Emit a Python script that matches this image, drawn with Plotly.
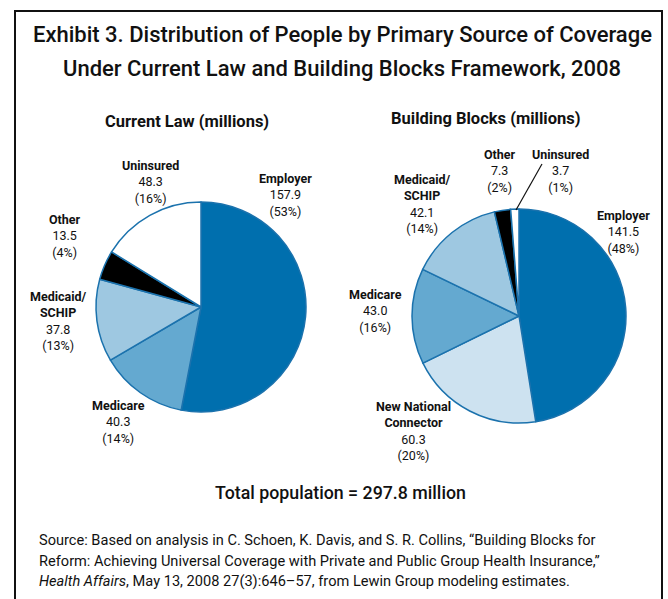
import plotly.graph_objects as go

W, H = 668, 599

# ---- data ----
cur_labels = ["Employer", "Medicare", "Medicaid/SCHIP", "Other", "Uninsured"]
cur_values = [157.9, 40.3, 37.8, 13.5, 48.3]
cur_pcts = ["53%", "14%", "13%", "4%", "16%"]

bb_labels = ["Employer", "New National Connector", "Medicare", "Medicaid/SCHIP", "Other", "Uninsured"]
bb_values = [141.5, 60.3, 43.0, 42.1, 7.3, 3.7]
bb_pcts = ["48%", "20%", "16%", "14%", "2%", "1%"]

# how label names wrap onto lines
name_lines = {
    "Employer": ["Employer"],
    "Medicare": ["Medicare"],
    "Medicaid/SCHIP": ["Medicaid/", "SCHIP"],
    "Other": ["Other"],
    "Uninsured": ["Uninsured"],
    "New National Connector": ["New National", "Connector"],
}

color_map = {
    "Employer": "#006fae",
    "Medicare": "#64a9d0",
    "Medicaid/SCHIP": "#9ec8e1",
    "Other": "#000000",
    "Uninsured": "#ffffff",
    "New National Connector": "#cde2f0",
}

# label block centres (pixels) — layout only
cur_label_pos = [(285, 195), (118, 422), (58, 321), (65, 236), (150, 182)]
bb_label_pos = [(623, 232), (413, 431), (375, 311), (422, 204), (500, 171), (560, 171)]

FONT = "Roboto, Liberation Sans, sans-serif"


def px(x):
    return x / W


def py(y):
    return 1 - y / H


def dom(cx, cy, r):
    return dict(x=[px(cx - r), px(cx + r)], y=[py(cy + r), py(cy - r)])


fig = go.Figure()

fig.add_trace(go.Pie(
    labels=cur_labels, values=cur_values, sort=False, direction="clockwise", rotation=0,
    marker=dict(colors=[color_map[l] for l in cur_labels], line=dict(color="#1b72ad", width=1.5)),
    textinfo="none", hoverinfo="label+value", showlegend=False,
    domain=dom(201, 307, 105),
))
fig.add_trace(go.Pie(
    labels=bb_labels, values=bb_values, sort=False, direction="clockwise", rotation=0,
    marker=dict(colors=[color_map[l] for l in bb_labels], line=dict(color="#1b72ad", width=1.5)),
    textinfo="none", hoverinfo="label+value", showlegend=False,
    domain=dom(519, 316, 107),
))

annotations = []


def add_text(x, y, text, size, color="#111111", xanchor="center", weight="normal"):
    annotations.append(dict(
        x=px(x), y=py(y), xref="paper", yref="paper", text=text, showarrow=False,
        xanchor=xanchor, yanchor="middle", align="left" if xanchor == "left" else "center",
        font=dict(family=FONT, size=size, color=color, weight=weight), borderpad=0,
    ))


def add_label(lab, val, pct, x, y):
    name = "<br>".join(f"<b>{t}</b>" for t in name_lines[lab])
    add_text(x, y, f"{name}<br>{val:.1f}<br>({pct})", 12.5)


for lab, val, pct, (x, y) in zip(cur_labels, cur_values, cur_pcts, cur_label_pos):
    add_label(lab, val, pct, x, y)
for lab, val, pct, (x, y) in zip(bb_labels, bb_values, bb_pcts, bb_label_pos):
    add_label(lab, val, pct, x, y)

add_text(342, 35, "Exhibit 3. Distribution of People by Primary Source of Coverage", 22, weight=500)
add_text(342, 68, "Under Current Law and Building Blocks Framework, 2008", 22, weight=500)
add_text(187, 122, "Current Law (millions)", 16.5, weight="bold")
add_text(486, 119, "Building Blocks (millions)", 16.5, weight="bold")
add_text(340, 492, "Total population = 297.8 million", 17.8, weight=500)

source_lines = [
    "Source: Based on analysis in C. Schoen, K. Davis, and S. R. Collins, \u201cBuilding Blocks for",
    "Reform: Achieving Universal Coverage with Private and Public Group Health Insurance,\u201d",
    "<i>Health Affairs</i>, May 13, 2008 27(3):646\u201357, from Lewin Group modeling estimates.",
]
for i, t in enumerate(source_lines):
    add_text(38, 540 + i * 20.5, t, 14.6, xanchor="left")

shapes = [
    dict(type="rect", xref="paper", yref="paper", x0=px(15), x1=px(662), y0=py(640), y1=py(11),
         line=dict(color="#111111", width=2), fillcolor="rgba(0,0,0,0)"),
    dict(type="line", xref="paper", yref="paper", x0=px(542), y0=py(164), x1=px(516), y1=py(210),
         line=dict(color="#111111", width=1.2)),
]

fig.update_layout(
    width=W, height=H, margin=dict(l=0, r=0, t=0, b=0),
    paper_bgcolor="white", plot_bgcolor="white",
    annotations=annotations, shapes=shapes,
)

fig.write_html("out.html", config={"displayModeBar": False},
               post_script="document.body.style.margin='0';document.body.style.overflow='hidden';")
